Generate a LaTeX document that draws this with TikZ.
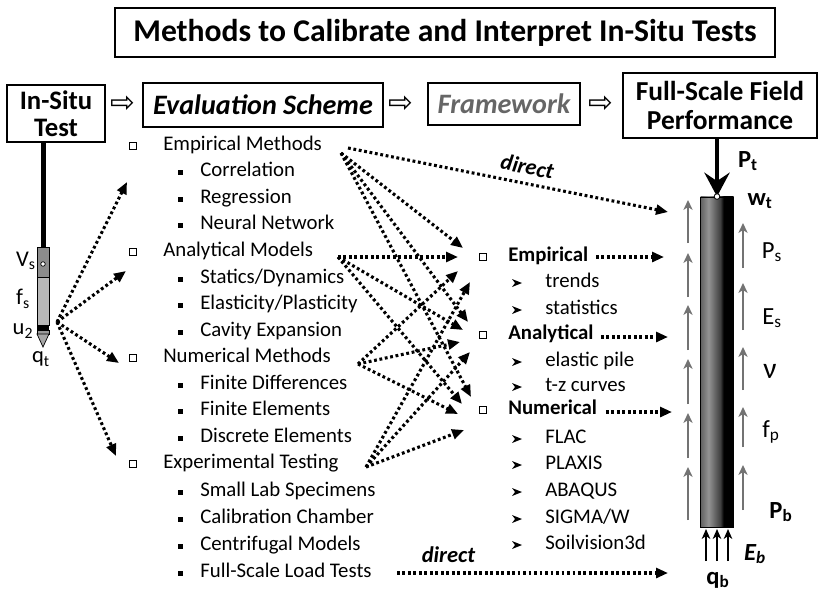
\documentclass[tikz,border=0pt]{standalone}
\usepackage{fontspec}
\setmainfont{Carlito}
\newfontfamily\symfont{DejaVu Sans}
\usetikzlibrary{arrows.meta,positioning}

% pile shading: grey on the left, black on the right
\pgfdeclarehorizontalshading{pileshade}{100bp}{%
  color(0bp)=(black!62); color(25bp)=(black!62); color(37bp)=(black!42);
  color(55bp)=(black!75); color(60bp)=(black); color(100bp)=(black)}

\tikzset{
  box/.style={draw, line width=1.2pt, fill=white, align=center, inner sep=0pt},
  dots/.style={line width=2.2pt, dash pattern=on 2pt off 1.9pt,
    -{Triangle[length=8.5pt,width=7pt]}},
  item/.style={anchor=west, inner sep=0pt, text height=8.5pt, text depth=1.6pt,
    font=\fontsize{14.8}{16}\selectfont},
  head/.style={item, font=\bfseries\fontsize{14.8}{16}\selectfont},
  sqb/.style={draw, line width=0.6pt, inner sep=0pt, minimum size=5.5pt},
  force/.style={black!55, line width=1.4pt, -{Stealth[length=7pt,width=6.5pt,inset=2pt]}},
  lbl/.style={inner sep=0pt, font=\fontsize{17.5}{18}\selectfont},
  blbl/.style={lbl, font=\bfseries\fontsize{17.5}{18}\selectfont},
  then/.style={inner sep=0pt, font=\symfont\fontsize{21}{21}\selectfont}
}

\begin{document}
\begin{tikzpicture}[x=0.025cm,y=-0.025cm]
\useasboundingbox[fill=white] (0,0) rectangle (820,593);

% title and the chain of boxes
\node[box, minimum width=16.5cm, minimum height=1.22cm, font=\bfseries\fontsize{22.5}{22.5}\selectfont] (title) at (445,32.5) {Methods to Calibrate and Interpret In-Situ Tests};

\node[box, minimum width=2.45cm, minimum height=1.425cm, font=\bfseries\fontsize{19}{19.5}\selectfont] (insitu) at (56,113.5) {In-Situ\\Test};
\node[box, minimum width=6cm, minimum height=1.1cm, font=\bfseries\itshape\fontsize{20}{20}\selectfont] (eval) at (263,105) {Evaluation Scheme};
\node[box, text=black!60, minimum width=3.8cm, minimum height=1.05cm, font=\bfseries\itshape\fontsize{20}{20}\selectfont] (frame) at (504,104) {Framework};
\node[box, line width=2pt, minimum width=4.85cm, minimum height=1.625cm, font=\bfseries\fontsize{19.5}{20}\selectfont] (field) at (720,105.5) {Full-Scale Field\\Performance};

\node[then] (t1) at (123,104) {⇨};
\node[then] (t2) at (401,104) {⇨};
\node[then] (t3) at (601,104) {⇨};

% cone penetrometer
\fill (40.5,142) rectangle (45.5,247);
\draw[fill=black!45, line width=0.5pt] (37,247) rectangle (49,277);
\draw[fill=black!28, line width=0.5pt] (37,277) rectangle (49,325);
\fill (37,325) rectangle (49,330);
\draw[fill=black!40, line width=0.5pt] (37,330) rectangle (49,334);
\draw[fill=black!35, line width=0.5pt] (37,334) -- (49,334) -- (43,347) -- cycle;
\draw[fill=white, line width=0.5pt] (43,264) circle (1.6pt);

\node[lbl, font=\fontsize{16}{16}\selectfont] (vs) at (26,261) {V\textsubscript{s}};
\node[lbl, font=\fontsize{16}{16}\selectfont] (fs) at (23,299) {f\textsubscript{s}};
\node[lbl, font=\fontsize{16}{16}\selectfont] (u2) at (23,331) {u\textsubscript{2}};
\node[lbl, font=\fontsize{16}{16}\selectfont] (qt) at (41,359) {q\textsubscript{t}};

% evaluation scheme
\node[sqb] (emsq) at (133,146) {};
\node[item] (em) at (163,146) {Empirical Methods};
\node[item] (cor) at (200,172) {Correlation};
\node[item] (reg) at (200,199) {Regression};
\node[item] (nn) at (200,225) {Neural Network};
\node[sqb] (amsq) at (133,252) {};
\node[item] (am) at (163,252) {Analytical Models};
\node[item] (sd) at (200,279) {Statics/Dynamics};
\node[item] (ep) at (200,305) {Elasticity/Plasticity};
\node[item] (ce) at (200,332) {Cavity Expansion};
\node[sqb] (nmsq) at (133,358) {};
\node[item] (nm) at (163,358) {Numerical Methods};
\node[item] (fd) at (200,385) {Finite Differences};
\node[item] (fem) at (200,411) {Finite Elements};
\node[item] (de) at (200,438) {Discrete Elements};
\node[sqb] (etsq) at (133,464) {};
\node[item] (et) at (163,464) {Experimental Testing};
\node[item] (sl) at (200,492) {Small Lab Specimens};
\node[item] (cc) at (200,519) {Calibration Chamber};
\node[item] (cm) at (200,546) {Centrifugal Models};
\node[item] (flt) at (200,573) {Full-Scale Load Tests};
\foreach \y in {172,199,225,279,305,332,385,411,438,492,519,546,573}
  \fill (180,\y) ++(-2.5,-2.5) rectangle ++(5,5);

% framework
\node[sqb] (fesq) at (483,257) {};
\node[head] (fe) at (508,257) {Empirical};
\node[item] (tr) at (545,283) {trends};
\node[item] (st) at (545,310) {statistics};
\node[sqb] (fasq) at (483,335) {};
\node[head] (fa) at (508,335) {Analytical};
\node[item] (el) at (545,362) {elastic pile};
\node[item] (tz) at (545,387) {t-z curves};
\node[sqb] (fnsq) at (483,410) {};
\node[head] (fn) at (508,410) {Numerical};
\node[item] (flac) at (545,439) {FLAC};
\node[item] (plx) at (545,465) {PLAXIS};
\node[item] (abq) at (545,492) {ABAQUS};
\node[item] (sig) at (545,519) {SIGMA/W};
\node[item] (sv) at (545,545) {Soilvision3d};
\foreach \y in {283,310,362,387,439,465,492,519,545}
  \fill (516,\y) ++(-4,-4) -- ++(10,4) -- ++(-10,4) -- ++(3,-4) -- cycle;

% probe to evaluation scheme
\coordinate (cone) at (57,322);
\draw[dots] (cone) -- (127,182);
\draw[dots] (cone) -- (126,271);
\draw[dots] (cone) -- (119,363);
\draw[dots] (cone) -- (116,456);

% evaluation scheme to framework
\coordinate (ems) at (341,153);
\coordinate (ams) at (338,257);
\coordinate (nms) at (358,364);
\coordinate (ets) at (366,467);
\draw[dots] (ems) -- (463,248);
\draw[dots] (ems) -- (468,322);
\draw[dots] (ems) -- (471,397);
\draw[dots] (ams) -- (458,257);
\draw[dots] (ams) -- (463,330);
\draw[dots] (ams) -- (462,404);
\draw[dots] (nms) -- (458,271);
\draw[dots] (nms) -- (460,342);
\draw[dots] (nms) -- (458,414);
\draw[dots] (ets) -- (470,282);
\draw[dots] (ets) -- (470,352);
\draw[dots] (ets) -- (464,430);

% pile with loads
\node[draw, line width=0.6pt, shading=pileshade, minimum width=0.825cm, minimum height=8.25cm, inner sep=0pt] (pile) at (717,362) {};
\draw[line width=2.4pt, -{Stealth[length=17pt,width=18pt,inset=6pt]}] (field.south -| pile.north) -- (pile.north);
\draw[fill=white, line width=0.6pt] (pile.north) circle (2pt);
\foreach \a/\b in {243/200,297/253,350/305,404/359,458/413,520/467}
  \draw[force] (688,\a) -- (688,\b);
\foreach \a/\b in {268/223,330/283,390/347,447/407,510/465}
  \draw[force] (743,\a) -- (743,\b);
\foreach \x in {706,717,728}
  \draw[line width=1.4pt, -{Stealth[length=7pt,width=6pt,inset=2pt]}] (\x,561) -- (\x,529);

\node[blbl] (pt) at (748,161) {P\textsubscript{t}};
\node[blbl] (wt) at (760,201) {w\textsubscript{t}};
\node[lbl] (ps) at (772,252) {P\textsubscript{s}};
\node[lbl] (es) at (772,318) {E\textsubscript{s}};
\node[lbl, font=\fontsize{21}{21}\selectfont] (nu) at (770,371) {ν};
\node[lbl] (fp) at (771,432) {f\textsubscript{p}};
\node[blbl] (pb) at (781,512) {P\textsubscript{b}};
\node[blbl, font=\bfseries\itshape\fontsize{17.5}{18}\selectfont] (eb) at (755,554) {E\textsubscript{b}};
\node[blbl] (qb) at (718,580) {q\textsubscript{b}};

% framework to pile, and the direct routes
\draw[dots] (596,257) -- (664,257);
\draw[dots] (601,337) -- (668,337);
\draw[dots] (606,412) -- (672,412);
\draw[dots] (348,148) -- node[sloped, above=2pt, pos=0.55, font=\bfseries\itshape\fontsize{16}{16}\selectfont] (d1) {direct} (668,212);
\draw[dots] (397,573) -- node[above=3pt, pos=0.19, font=\bfseries\itshape\fontsize{16}{16}\selectfont] (d2) {direct} (668,573);

\end{tikzpicture}
\end{document}
